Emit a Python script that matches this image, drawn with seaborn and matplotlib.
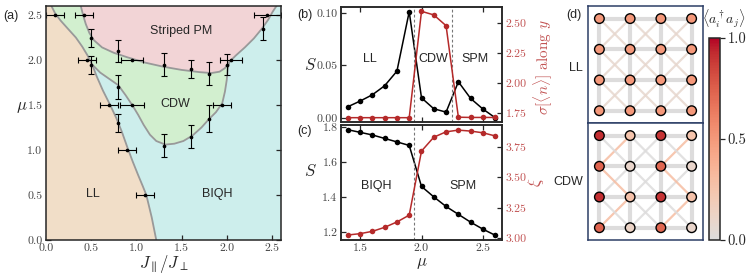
import numpy as np
import pandas as pd
import matplotlib
matplotlib.use("Agg")
import matplotlib.pyplot as plt
from matplotlib.colors import LinearSegmentedColormap, Normalize
from matplotlib.cm import ScalarMappable
import seaborn as sns

sns.set_style("ticks")
plt.rcParams['font.family'] = 'serif'
plt.rcParams['font.serif'] = ['cmr10']
plt.rcParams['mathtext.fontset'] = 'cm'
plt.rcParams['axes.formatter.use_mathtext'] = True
plt.rcParams['axes.unicode_minus'] = False

SANS = 'Liberation Sans'
RED = '#b52a2a'
RED_TXT = '#c25353'
TICK_C = '#444444'

# ---------------- panel (a): phase diagram ----------------
pt_J    = [0.10, 0.42, 0.50, 0.45, 0.50, 0.80, 0.95, 1.30, 1.60, 1.80, 2.00, 2.05, 2.40, 2.45,
           0.80, 0.70, 0.95, 0.80, 1.30, 1.60, 1.80, 1.95, 0.90, 1.10]
pt_mu   = [2.50, 2.50, 2.25, 2.00, 1.95, 2.10, 2.00, 1.95, 1.90, 1.85, 1.95, 2.00, 2.35, 2.50,
           1.70, 1.50, 1.50, 1.30, 1.05, 1.15, 1.35, 1.50, 1.00, 0.50]
pt_xerr = [0.10, 0.10, 0.00, 0.10, 0.00, 0.00, 0.12, 0.00, 0.00, 0.00, 0.00, 0.12, 0.00, 0.15,
           0.00, 0.10, 0.13, 0.00, 0.00, 0.00, 0.00, 0.10, 0.10, 0.10]
pt_yerr = [0.00, 0.00, 0.10, 0.00, 0.10, 0.12, 0.00, 0.13, 0.10, 0.13, 0.12, 0.00, 0.13, 0.00,
           0.13, 0.00, 0.00, 0.10, 0.13, 0.13, 0.15, 0.00, 0.00, 0.00]

# phase boundaries
ll_J  = [0.06, 0.10, 0.16, 0.24, 0.33, 0.40, 0.46, 0.51, 0.56, 0.63, 0.71, 0.78, 0.84,
         0.90, 0.96, 1.02, 1.07, 1.11, 1.17, 1.21, 1.22]
ll_mu = [2.60, 2.52, 2.44, 2.35, 2.25, 2.15, 2.05, 1.95, 1.82, 1.66, 1.50, 1.35, 1.20,
         1.03, 0.87, 0.72, 0.60, 0.50, 0.25, 0.05, 0.00]
spm_J  = [0.385, 0.41, 0.44, 0.48, 0.53, 0.62, 0.75, 0.90, 1.10, 1.30, 1.50, 1.70, 1.83,
          1.92, 1.98, 2.03, 2.10, 2.20, 2.30, 2.39, 2.46, 2.51, 2.55]
spm_mu = [2.60, 2.50, 2.40, 2.30, 2.22, 2.14, 2.08, 2.03, 1.97, 1.925, 1.89, 1.865, 1.855,
          1.87, 1.91, 1.98, 2.05, 2.14, 2.24, 2.35, 2.45, 2.54, 2.60]
cdw_J  = [0.51, 0.60, 0.70, 0.80, 0.88, 0.96, 1.02, 1.08, 1.15, 1.22, 1.32, 1.42, 1.52,
          1.62, 1.72, 1.80, 1.88, 1.95, 1.98, 2.00, 2.01, 2.03]
cdw_mu = [1.95, 1.86, 1.79, 1.72, 1.61, 1.49, 1.39, 1.28, 1.17, 1.10, 1.06, 1.07, 1.10,
          1.16, 1.25, 1.34, 1.42, 1.52, 1.65, 1.78, 1.90, 1.98]

C_LL, C_CDW, C_SPM, C_BIQH = '#f1dec8', '#d2efcf', '#f2d4d6', '#cdeeec'
C_BOUND = '#999999'

# ---------------- panels (b), (c) ----------------
mu = [1.4, 1.5, 1.6, 1.7, 1.8, 1.9, 2.0, 2.1, 2.2, 2.3, 2.4, 2.5, 2.6]
S_b = [0.0105, 0.0159, 0.0219, 0.0305, 0.0444, 0.101, 0.019, 0.0086, 0.0054, 0.0343,
       0.0184, 0.0083, 0.0]
sigma_b = [1.713, 1.713, 1.713, 1.713, 1.713, 1.713, 2.60, 2.57, 2.48, 1.717, 1.715, 1.715, 1.715]
S_c = [1.785, 1.77, 1.755, 1.735, 1.715, 1.695, 1.46, 1.40, 1.345, 1.30, 1.255, 1.215, 1.18]
xi_c = [3.027, 3.038, 3.057, 3.09, 3.134, 3.19, 3.716, 3.83, 3.874, 3.888, 3.88, 3.866, 3.84]
trans_b = [1.94, 2.25]
trans_c = [1.94]

# ---------------- panel (d): correlations on a 4x4 lattice ----------------
ll_nodes = [[0.50, 0.50, 0.50, 0.50],
            [0.50, 0.50, 0.50, 0.50],
            [0.50, 0.50, 0.50, 0.50],
            [0.50, 0.50, 0.50, 0.50]]
cdw_nodes = [[0.92, 0.25, 0.90, 0.25],
             [0.74, 0.10, 0.72, 0.10],
             [0.92, 0.27, 0.90, 0.26],
             [0.74, 0.12, 0.72, 0.10]]
ll_diag_up = [[0.08] * 3] * 3
ll_diag_dn = [[0.08] * 3] * 3
cdw_diag_up = [[0.30, 0.0, 0.30], [0.0, 0.0, 0.0], [0.30, 0.0, 0.30]]
cdw_diag_dn = [[0.0, 0.0, 0.0], [0.30, 0.0, 0.30], [0.0, 0.0, 0.0]]
nn_val = 0.0

lat_cmap = LinearSegmentedColormap.from_list(
    'cw_half', plt.cm.coolwarm(np.linspace(0.5, 1.0, 256)))

W, H = 747, 277
fig = plt.figure(figsize=(W / 100, H / 100), dpi=100)


def px_axes(x0, y0, x1, y1):
    return fig.add_axes([x0 / W, 1 - y1 / H, (x1 - x0) / W, (y1 - y0) / H])


def style_ticks(ax, labelcolor=TICK_C):
    ax.tick_params(direction='in', length=3.5, width=0.9, labelsize=8.5,
                   labelcolor=labelcolor, pad=2.5)
    for s in ax.spines.values():
        s.set_linewidth(1.1)


# ----- (a)
axa = px_axes(46, 6, 281, 240)
axa.set_facecolor(C_BIQH)
top = 2.6
axa.fill(list(cdw_J) + list(spm_J[::-1][:1]) + [0.0, 0.0],
         list(cdw_mu) + [top, top, cdw_mu[0]], color=C_CDW, lw=0)
axa.fill(spm_J, spm_mu, color=C_SPM, lw=0)
axa.fill(list(ll_J) + [0.0, 0.0], list(ll_mu) + [0.0, top], color=C_LL, lw=0)
for bx, by in [(ll_J, ll_mu), (spm_J, spm_mu), (cdw_J, cdw_mu)]:
    axa.plot(bx, by, color=C_BOUND, lw=1.3, solid_capstyle='round')

pts = pd.DataFrame({'J': pt_J, 'mu': pt_mu, 'xerr': pt_xerr, 'yerr': pt_yerr})
px = pts[pts.xerr > 0]
py = pts[pts.yerr > 0]
axa.errorbar(px.J, px.mu, xerr=px.xerr, fmt='none', ecolor='k', elinewidth=0.8,
             capsize=2.5, capthick=0.8)
axa.errorbar(py.J, py.mu, yerr=py.yerr, fmt='none', ecolor='k', elinewidth=0.8,
             capsize=2.5, capthick=0.8)
sns.scatterplot(data=pts, x='J', y='mu', color='k', s=7, linewidth=0, ax=axa, zorder=5)
axa.set_xlim(0, 2.6)
axa.set_ylim(0, 2.6)
axa.set_xticks([0, 0.5, 1.0, 1.5, 2.0, 2.5])
axa.set_yticks([0, 0.5, 1.0, 1.5, 2.0, 2.5])
axa.xaxis.set_major_formatter('{x:.1f}')
axa.yaxis.set_major_formatter('{x:.1f}')
axa.tick_params(top=True, right=True)
style_ticks(axa)
axa.set_xlabel(r'$J_\parallel/J_\perp$', fontsize=12, labelpad=0)
axa.set_ylabel(r'$\mu$', fontsize=12, rotation=0, va='center')
axa.yaxis.set_label_coords(-0.105, 0.565)
for txt, x, y in [('Striped PM', 1.5, 2.32), ('CDW', 1.43, 1.51), ('LL', 0.52, 0.51),
                  ('BIQH', 1.9, 0.51)]:
    axa.text(x, y, txt, family=SANS, fontsize=9, ha='center', va='center')
fig.text(3 / W, 1 - 16 / H, '(a)', family=SANS, fontsize=9, va='center')

# ----- (b)
axb = px_axes(341, 7, 502, 122)
sns.lineplot(x=mu, y=S_b, color='k', marker='o', markersize=4, markeredgewidth=0,
             lw=1.1, ax=axb)
axb.set_xlim(1.345, 2.655)
axb.set_ylim(-0.004, 0.1055)
axb.set_yticks([0.0, 0.05, 0.10])
axb.yaxis.set_major_formatter('{x:.2f}')
axb.set_xticks([1.5, 2.0, 2.5])
axb.tick_params(top=True, labelbottom=False)
style_ticks(axb)
for m in trans_b:
    axb.axvline(m, color='#777777', ls='--', lw=0.8, dashes=(2.5, 2))
axb.set_ylabel(r'$S$', fontsize=12, rotation=0, va='center')
axb.yaxis.set_label_coords(-0.19, 0.5)
axbr = axb.twinx()
sns.lineplot(x=mu, y=sigma_b, color=RED, marker='o', markersize=4, markeredgewidth=0,
             lw=1.1, ax=axbr)
axbr.set_ylim(1.677, 2.636)
axbr.set_yticks([1.75, 2.00, 2.25, 2.50])
axbr.yaxis.set_major_formatter('{x:.2f}')
style_ticks(axbr, RED_TXT)
axbr.set_ylabel(r'$\sigma[\langle n\rangle]$ along $y$', color=RED_TXT, fontsize=11)
axbr.yaxis.set_label_coords(1.18, 0.48)
for txt, x in [('LL', 0.18), ('CDW', 0.57), ('SPM', 0.83)]:
    axb.text(x, 0.55, txt, transform=axb.transAxes, family=SANS, fontsize=9,
             ha='center', va='center')
fig.text(297 / W, 1 - 15 / H, '(b)', family=SANS, fontsize=9, va='center')

# ----- (c)
axc = px_axes(341, 125, 502, 240)
sns.lineplot(x=mu, y=S_c, color='k', marker='o', markersize=4, markeredgewidth=0,
             lw=1.1, ax=axc)
axc.set_xlim(1.345, 2.655)
axc.set_ylim(1.153, 1.812)
axc.set_yticks([1.2, 1.4, 1.6, 1.8])
axc.yaxis.set_major_formatter('{x:.1f}')
axc.set_xticks([1.5, 2.0, 2.5])
axc.xaxis.set_major_formatter('{x:.1f}')
axc.tick_params(top=True)
style_ticks(axc)
for m in trans_c:
    axc.axvline(m, color='#777777', ls='--', lw=0.8, dashes=(2.5, 2))
axc.set_ylabel(r'$S$', fontsize=12, rotation=0, va='center')
axc.yaxis.set_label_coords(-0.19, 0.6)
axc.set_xlabel(r'$\mu$', fontsize=12, labelpad=2)
axcr = axc.twinx()
sns.lineplot(x=mu, y=xi_c, color=RED, marker='o', markersize=4, markeredgewidth=0,
             lw=1.1, ax=axcr)
axcr.set_ylim(2.986, 3.93)
axcr.set_yticks([3.00, 3.25, 3.50, 3.75])
axcr.yaxis.set_major_formatter('{x:.2f}')
style_ticks(axcr, RED_TXT)
axcr.set_ylabel(r'$\xi$', color=RED_TXT, fontsize=12, rotation=90)
axcr.yaxis.set_label_coords(1.15, 0.5)
for txt, x in [('BIQH', 0.22), ('SPM', 0.76)]:
    axc.text(x, 0.47, txt, transform=axc.transAxes, family=SANS, fontsize=9,
             ha='center', va='center')
fig.text(297 / W, 1 - 131 / H, '(c)', family=SANS, fontsize=9, va='center')


# ----- (d)
def draw_lattice(ax, node_vals, diag_up, diag_dn):
    for r in range(3):
        for c in range(3):
            ax.plot([c, c + 1], [r + 1, r], color=lat_cmap(diag_up[r][c]), lw=1.6,
                    alpha=0.85, zorder=1)
            ax.plot([c, c + 1], [r, r + 1], color=lat_cmap(diag_dn[r][c]), lw=1.6,
                    alpha=0.85, zorder=1)
    for r in range(4):
        for c in range(4):
            if c < 3:
                ax.plot([c, c + 1], [r, r], color=lat_cmap(nn_val), lw=3, zorder=2,
                        solid_capstyle='butt')
            if r < 3:
                ax.plot([c, c], [r, r + 1], color=lat_cmap(nn_val), lw=3, zorder=2,
                        solid_capstyle='butt')
    nodes = pd.DataFrame([(c, r, node_vals[r][c]) for r in range(4) for c in range(4)],
                         columns=['col', 'row', 'val'])
    sns.scatterplot(data=nodes, x='col', y='row', hue='val', palette=lat_cmap,
                    hue_norm=(0, 1), s=48, edgecolor='k', linewidth=1.0, legend=False,
                    ax=ax, zorder=3)
    ax.set_xlim(-0.37, 3.37)
    ax.set_ylim(3.4, -0.41)
    ax.set_xticks([])
    ax.set_yticks([])
    ax.set_xlabel('')
    ax.set_ylabel('')
    for s in ax.spines.values():
        s.set_color('#2c3e66')
        s.set_linewidth(1.1)


axd1 = px_axes(588, 6, 703, 123)
draw_lattice(axd1, ll_nodes, ll_diag_up, ll_diag_dn)
axd2 = px_axes(588, 123, 703, 240)
draw_lattice(axd2, cdw_nodes, cdw_diag_up, cdw_diag_dn)
fig.text(583 / W, 1 - 68 / H, 'LL', family=SANS, fontsize=9, ha='right', va='center')
fig.text(583 / W, 1 - 182 / H, 'CDW', family=SANS, fontsize=9, ha='right', va='center')
fig.text(566 / W, 1 - 15 / H, '(d)', family=SANS, fontsize=9, va='center')

cax = px_axes(709, 38, 720, 240)
cb = fig.colorbar(ScalarMappable(norm=Normalize(0, 1), cmap=lat_cmap), cax=cax)
cb.set_ticks([0.0, 0.5, 1.0])
cb.ax.yaxis.set_major_formatter('{x:.1f}')
cb.ax.tick_params(labelsize=10.5, length=3.5, width=0.9, pad=2)
cb.outline.set_linewidth(1.1)
fig.text(745 / W, 1 - 19 / H, r'$\langle a_i^\dagger a_j\rangle$', fontsize=10,
         ha='right', va='center')

fig.savefig('out.png', dpi=100)
